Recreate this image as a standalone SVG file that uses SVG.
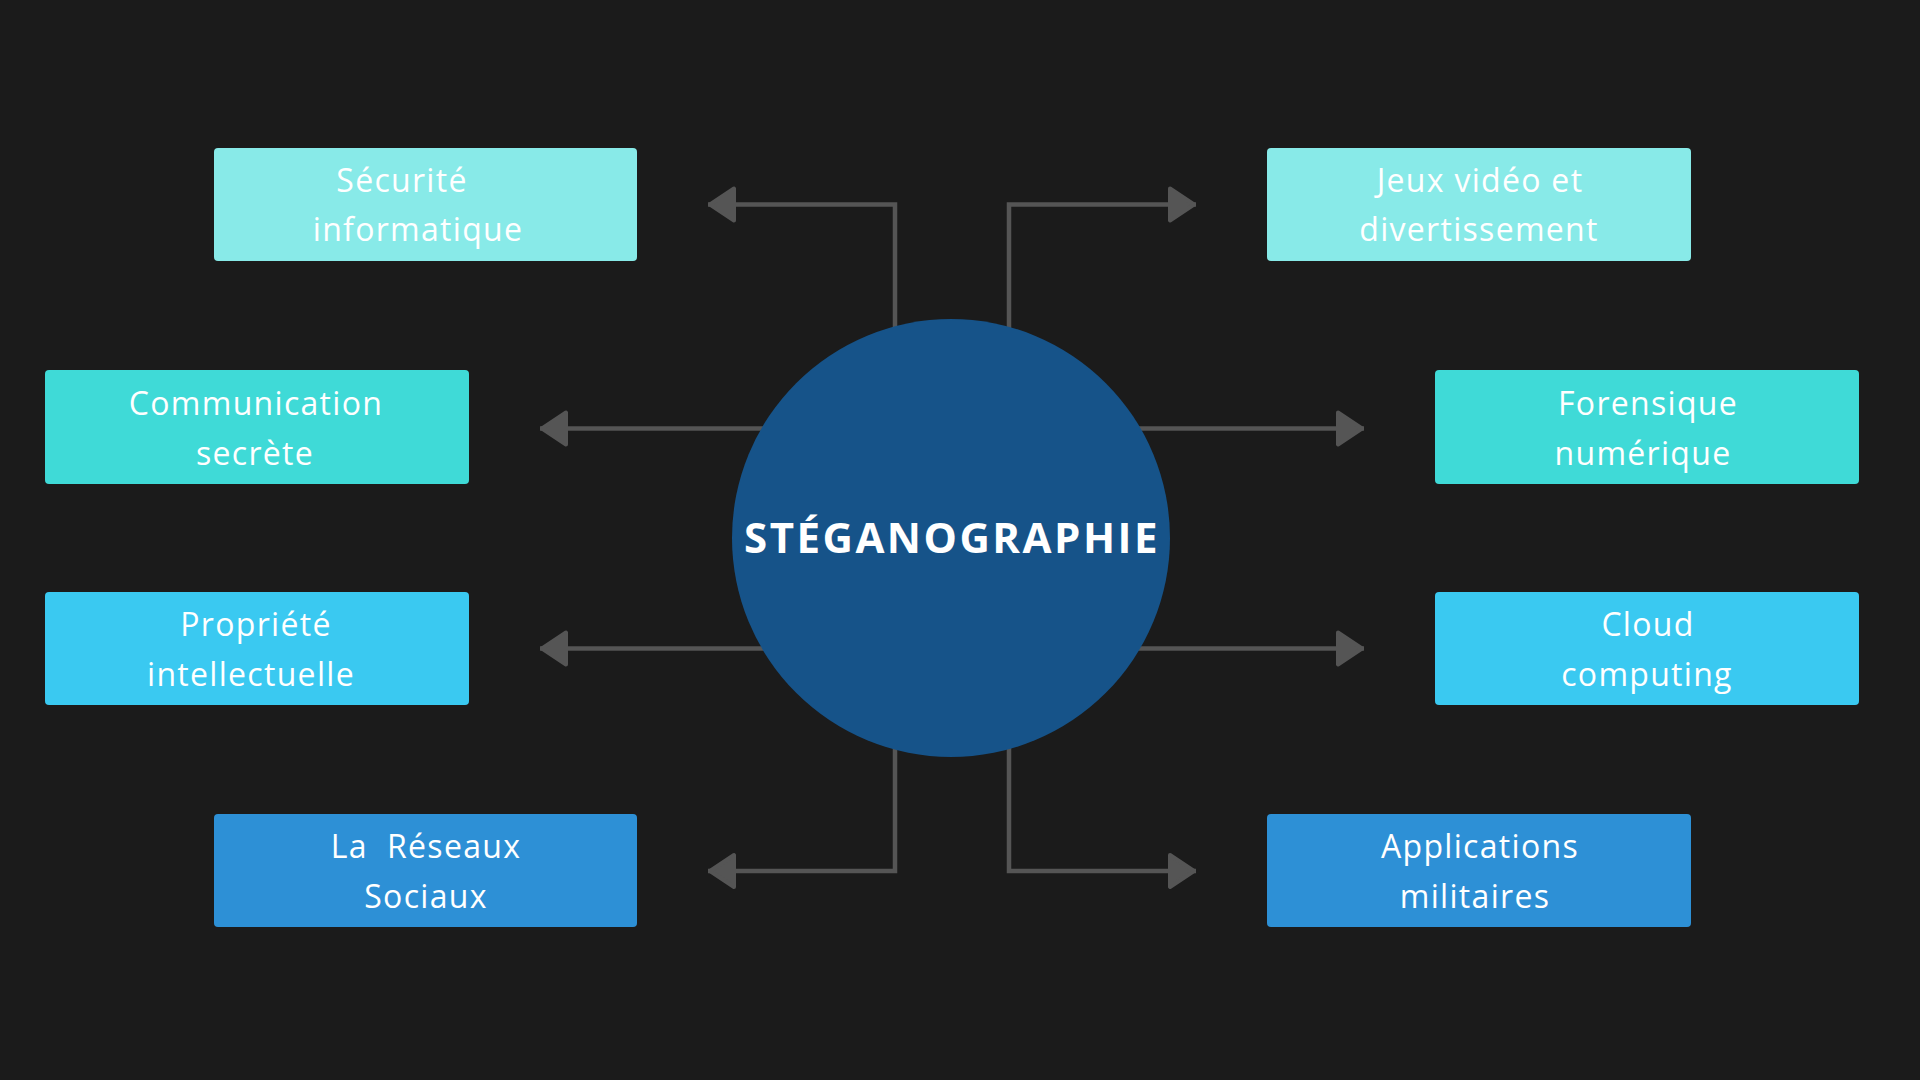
<svg xmlns="http://www.w3.org/2000/svg" width="1920" height="1080" viewBox="0 0 1920 1080">
  <defs>
    <style>
      .box { stroke: none; }
      .c1 { fill: #88EAE8; }
      .c2 { fill: #3FDAD7; }
      .c3 { fill: #3AC9F1; }
      .c4 { fill: #2D90D6; }
      .lbl { font-family: "Open Sans", "Liberation Sans", sans-serif; font-size: 32px; fill: #FFFFFF; letter-spacing: 1.3px; text-anchor: middle; white-space: pre; }
      .title { font-family: "Open Sans", "Liberation Sans", sans-serif; font-size: 42px; font-weight: 700; fill: #FFFFFF; letter-spacing: 2.5px; text-anchor: middle; }
      .conn { fill: none; stroke: #555555; stroke-width: 4.5; marker-end: url(#arr); }
    </style>
    <marker id="arr" markerUnits="userSpaceOnUse" markerWidth="44" markerHeight="48" viewBox="-4 -24 44 48" refX="28" refY="0" orient="auto">
      <path d="M2,-16 L26,0 L2,16 Z" fill="#555555" stroke="#555555" stroke-width="4" stroke-linejoin="round"/>
    </marker>
  </defs>
  <rect x="0" y="0" width="1920" height="1080" fill="#1B1B1B"/>

  <g id="connectors">
    <path class="conn" d="M895,420 V204.5 H708"/>
    <path class="conn" d="M1009,420 V204.5 H1196"/>
    <path class="conn" d="M820,428.5 H540"/>
    <path class="conn" d="M1080,428.5 H1364"/>
    <path class="conn" d="M820,648.5 H540"/>
    <path class="conn" d="M1080,648.5 H1364"/>
    <path class="conn" d="M895,660 V871 H708"/>
    <path class="conn" d="M1009,660 V871 H1196"/>
  </g>

  <g id="center">
    <circle cx="951" cy="538" r="219" fill="#165389"/>
    <text class="title" x="952" y="553">STÉGANOGRAPHIE</text>
  </g>

  <g id="securite">
    <rect class="box c1" x="214" y="148" width="423" height="113" rx="4"/>
    <text class="lbl" x="402" y="192">Sécurité</text>
    <text class="lbl" x="418" y="241">informatique</text>
  </g>

  <g id="jeux">
    <rect class="box c1" x="1267" y="148" width="424" height="113" rx="4"/>
    <text class="lbl" x="1480" y="192">Jeux vidéo et</text>
    <text class="lbl" x="1479" y="241">divertissement</text>
  </g>

  <g id="communication">
    <rect class="box c2" x="45" y="370" width="424" height="114" rx="4"/>
    <text class="lbl" x="256" y="415">Communication</text>
    <text class="lbl" x="255" y="465">secrète</text>
  </g>

  <g id="forensique">
    <rect class="box c2" x="1435" y="370" width="424" height="114" rx="4"/>
    <text class="lbl" x="1648" y="415">Forensique</text>
    <text class="lbl" x="1643" y="465">numérique</text>
  </g>

  <g id="propriete">
    <rect class="box c3" x="45" y="592" width="424" height="113" rx="4"/>
    <text class="lbl" x="256" y="636">Propriété</text>
    <text class="lbl" x="251" y="686">intellectuelle</text>
  </g>

  <g id="cloud">
    <rect class="box c3" x="1435" y="592" width="424" height="113" rx="4"/>
    <text class="lbl" x="1648" y="636">Cloud</text>
    <text class="lbl" x="1647" y="686">computing</text>
  </g>

  <g id="reseaux">
    <rect class="box c4" x="214" y="814" width="423" height="113" rx="4"/>
    <text class="lbl" x="426" y="858" xml:space="preserve">La  Réseaux</text>
    <text class="lbl" x="426" y="908">Sociaux</text>
  </g>

  <g id="applications">
    <rect class="box c4" x="1267" y="814" width="424" height="113" rx="4"/>
    <text class="lbl" x="1480" y="858">Applications</text>
    <text class="lbl" x="1475" y="908">militaires</text>
  </g>
</svg>
